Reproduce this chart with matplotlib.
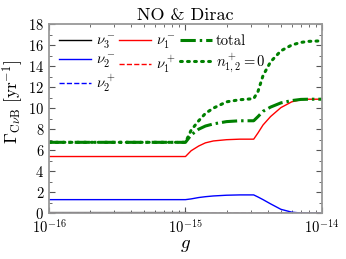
import numpy as np
import matplotlib.pyplot as plt
from matplotlib.ticker import FuncFormatter

plt.rcParams['font.family'] = 'serif'
plt.rcParams['font.serif'] = ['cmr10']
plt.rcParams['mathtext.fontset'] = 'cm'
plt.rcParams['axes.formatter.use_mathtext'] = True
plt.rcParams['font.size'] = 10

# g values (log axis)
g = np.array([1e-16, 1e-15, 1.1e-15, 1.25e-15, 1.4e-15, 1.6e-15, 2e-15, 2.5e-15,
              3.16e-15, 3.4e-15, 3.7e-15, 4.2e-15, 5e-15, 6e-15, 7e-15, 8e-15, 1e-14])

nu1_minus = [5.4, 5.4, 5.95, 6.4, 6.7, 6.88, 7.0, 7.05,
             7.05, 7.65, 8.4, 9.2, 10.05, 10.6, 10.8, 10.85, 10.85]
nu2_minus = [1.3, 1.3, 1.37, 1.5, 1.58, 1.65, 1.72, 1.75,
             1.75, 1.55, 1.3, 0.9, 0.38, 0.11, 0.03, 0.0, 0.0]
nu3_minus = [0.07, 0.07, 0.05, 0.03, 0.01, 0.0, 0.0, 0.0,
             0.0, 0.0, 0.0, 0.0, 0.0, 0.0, 0.0, 0.0, 0.0]
nu1_plus = [0.0] * len(g)
nu2_plus = [0.0] * len(g)
total = [6.75, 6.75, 7.45, 8.0, 8.3, 8.5, 8.72, 8.8,
         8.8, 9.2, 9.7, 10.1, 10.5, 10.72, 10.83, 10.85, 10.85]
n12_zero = [6.75, 6.75, 7.9, 8.8, 9.5, 10.0, 10.6, 10.8,
            10.9, 11.6, 13.1, 14.4, 15.45, 16.0, 16.25, 16.35, 16.4]

fig = plt.figure(figsize=(3.46, 2.59), dpi=100)
ax = fig.add_axes([0.1416, 0.1764, 0.7890, 0.7309])

ax.plot(g, nu3_minus, color='k', lw=1.0, label=r'$\nu_3^-$')
ax.plot(g, nu2_minus, color='b', lw=1.0, label=r'$\nu_2^-$')
ax.plot(g, nu2_plus, color='b', lw=1.0, ls='--', label=r'$\nu_2^+$')
ax.plot(g, nu1_minus, color='r', lw=1.0, label=r'$\nu_1^-$')
ax.plot(g, nu1_plus, color='r', lw=1.0, ls='--', label=r'$\nu_1^+$')
ax.plot(g, total, color='green', lw=2.2, ls=(0, (5, 1.3, 0.8, 1.3)), label='total')
ax.plot(g, n12_zero, color='green', lw=2.2, ls=(0, (0.6, 1.7)),
        dash_capstyle='round', label=r'$n_{1,2}^+=0$')

ax.set_xscale('log')
ax.set_xlim(1e-16, 1e-14)
ax.xaxis.set_major_formatter(FuncFormatter(lambda v, p: r'$10^{%d}$' % round(np.log10(v))))
ax.set_ylim(0, 18)
ax.set_yticks(np.arange(0, 19, 2))
ax.set_yticks(np.arange(0, 19, 1), minor=True)
ax.tick_params(which='both', direction='in', top=True, right=True, color='#555555',
               labelsize=10.5)
ax.tick_params(which='major', length=4)
ax.tick_params(which='minor', length=2)
for s in ax.spines.values():
    s.set_color('#999999')
    s.set_linewidth(1.3)

ax.set_title('NO & Dirac', fontsize=13, pad=3)
ax.set_xlabel(r'$g$', fontsize=13.5, labelpad=0)
ax.set_ylabel(r'$\Gamma_{\rm C\nu B}\ [{\rm yr}^{-1}]$', fontsize=12.5)
ax.yaxis.set_label_coords(-0.088, 0.59)

ax.legend(loc='upper left', ncol=3, frameon=False, fontsize=10.5,
          handlelength=2.2, handletextpad=0.3, columnspacing=0.3,
          labelspacing=0.2, borderaxespad=0.3)

fig.savefig('out.png', dpi=100)
